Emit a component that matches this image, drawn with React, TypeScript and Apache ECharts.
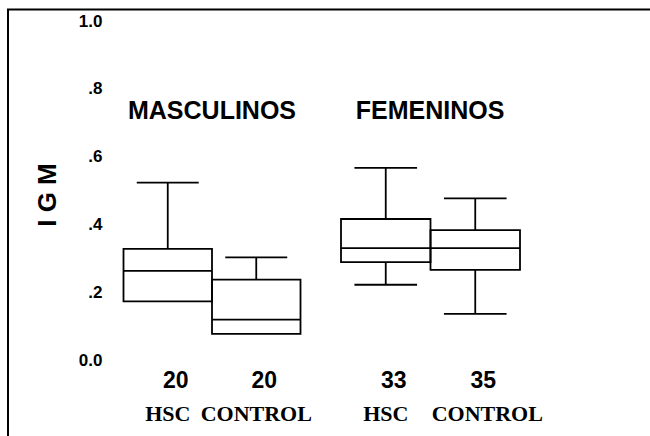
import React, { useEffect, useRef } from "react";
import * as echarts from "echarts";

// ---- data ----
const groups = ["MASCULINOS", "FEMENINOS"];
const categories = ["HSC", "CONTROL"];
const masculinosCounts = [20, 20];
const femeninosCounts = [33, 35];
// [min, Q1, median, Q3, max]
const masculinosHSC = [0.173, 0.173, 0.263, 0.328, 0.523];
const masculinosControl = [0.077, 0.077, 0.119, 0.237, 0.303];
const femeninosHSC = [0.222, 0.289, 0.33, 0.416, 0.567];
const femeninosControl = [0.136, 0.266, 0.33, 0.383, 0.477];
const yTicks = [0, 0.2, 0.4, 0.6, 0.8, 1.0];
const yTickLabels = ["0.0", ".2", ".4", ".6", ".8", "1.0"];
const yAxisTitle = "I G M";

const SANS = "'Liberation Sans', Arial, sans-serif";
const SERIF = "'Liberation Serif', 'Times New Roman', serif";

function boxRender(params: any, api: any) {
  const x = api.value(0);
  const min = api.value(1);
  const q1 = api.value(2);
  const med = api.value(3);
  const q3 = api.value(4);
  const max = api.value(5);
  const band = api.size([1, 0])[0];
  const half = band / 2;
  const capHalf = band * 0.35;
  const [cx, yMin] = api.coord([x, min]);
  const yQ1 = api.coord([x, q1])[1];
  const yMed = api.coord([x, med])[1];
  const yQ3 = api.coord([x, q3])[1];
  const yMax = api.coord([x, max])[1];
  const ls = { stroke: "#000", lineWidth: 1.8, fill: null };
  const children: any[] = [
    {
      type: "rect",
      shape: { x: cx - half, y: yQ3, width: band, height: yQ1 - yQ3 },
      style: { stroke: "#000", lineWidth: 1.8, fill: "none" },
    },
    { type: "line", shape: { x1: cx - half, y1: yMed, x2: cx + half, y2: yMed }, style: ls },
    { type: "line", shape: { x1: cx, y1: yQ3, x2: cx, y2: yMax }, style: ls },
    { type: "line", shape: { x1: cx - capHalf, y1: yMax, x2: cx + capHalf, y2: yMax }, style: ls },
  ];
  if (min < q1) {
    children.push(
      { type: "line", shape: { x1: cx, y1: yQ1, x2: cx, y2: yMin }, style: ls },
      { type: "line", shape: { x1: cx - capHalf, y1: yMin, x2: cx + capHalf, y2: yMin }, style: ls }
    );
  }
  return { type: "group", children };
}

function xLabel(counts: number[], shiftLast: boolean) {
  return (value: string, index: number) => {
    const g = shiftLast && index === counts.length - 1 ? "g2" : "g";
    return `{n|${counts[index]}}\n{${g}|${value}}`;
  };
}

const gStyle = {
  fontFamily: SERIF,
  fontWeight: "bold",
  fontSize: 22,
  lineHeight: 36,
  color: "#000",
};

const xRich = {
  n: {
    fontFamily: SANS,
    fontWeight: "bold",
    fontSize: 23,
    lineHeight: 30,
    color: "#000",
    padding: [0, 0, 0, 16],
  },
  g: gStyle,
  g2: { ...gStyle, padding: [0, 0, 0, 24] },
};

export default function App() {
  const ref = useRef<HTMLDivElement>(null);
  useEffect(() => {
    if (!ref.current) return;
    const chart = echarts.init(ref.current, null, { renderer: "svg" });
    const toItem = (i: number, b: number[]) => [i, ...b];
    const titleStyle = {
      fontFamily: SANS,
      fontWeight: "bold",
      fontSize: 25,
      fill: "#000",
      align: "center",
      verticalAlign: "middle",
    };
    chart.setOption({
      animation: false,
      backgroundColor: "#fff",
      grid: [
        { left: 123.5, top: 21, width: 177, height: 339 },
        { left: 341, top: 21, width: 179, height: 339 },
      ],
      xAxis: [0, 1].map((g) => ({
        type: "category",
        gridIndex: g,
        data: categories,
        axisLine: { show: false },
        axisTick: { show: false },
        splitLine: { show: false },
        axisLabel: {
          interval: 0,
          margin: 5,
          formatter: xLabel(g === 0 ? masculinosCounts : femeninosCounts, g === 1),
          rich: xRich,
        },
      })),
      yAxis: [0, 1].map((g) => ({
        type: "value",
        gridIndex: g,
        min: yTicks[0],
        max: yTicks[yTicks.length - 1],
        interval: 0.2,
        show: g === 0,
        axisLine: { show: false },
        axisTick: { show: false },
        splitLine: { show: false },
        axisLabel: {
          margin: 21,
          fontFamily: SANS,
          fontWeight: "bold",
          fontSize: 17,
          color: "#000",
          formatter: (v: number) => {
            const i = yTicks.findIndex((t) => Math.abs(t - v) < 1e-6);
            return i >= 0 ? yTickLabels[i] : "";
          },
        },
      })),
      series: [
        {
          type: "custom",
          xAxisIndex: 0,
          yAxisIndex: 0,
          renderItem: boxRender,
          encode: { x: 0, y: [1, 2, 3, 4, 5] },
          data: [toItem(0, masculinosHSC), toItem(1, masculinosControl)],
        },
        {
          type: "custom",
          xAxisIndex: 1,
          yAxisIndex: 1,
          renderItem: boxRender,
          encode: { x: 0, y: [1, 2, 3, 4, 5] },
          data: [toItem(0, femeninosHSC), toItem(1, femeninosControl)],
        },
      ],
      graphic: [
        {
          type: "polyline",
          shape: {
            points: [
              [8, 440],
              [8, 9.5],
              [660, 9.5],
            ],
          },
          style: { stroke: "#000", lineWidth: 2, fill: null },
          silent: true,
        },
        {
          type: "text",
          x: 212,
          y: 110,
          style: { ...titleStyle, text: groups[0] },
        },
        {
          type: "text",
          x: 430,
          y: 110,
          style: { ...titleStyle, text: groups[1] },
        },
        {
          type: "text",
          x: 47,
          y: 195,
          rotation: Math.PI / 2,
          style: {
            text: yAxisTitle,
            fontFamily: SANS,
            fontWeight: "bold",
            fontSize: 26,
            fill: "#000",
            align: "center",
            verticalAlign: "middle",
          },
        },
      ],
    });
    return () => chart.dispose();
  }, []);
  return (
    <div
      ref={ref}
      style={{ position: "fixed", left: 0, top: 0, width: 650, height: 436 }}
    />
  );
}
